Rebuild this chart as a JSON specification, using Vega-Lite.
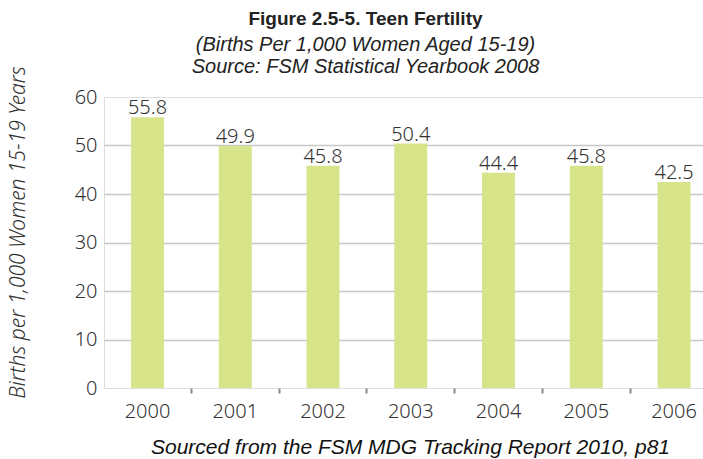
{
  "$schema": "https://vega.github.io/schema/vega-lite/v6.json",
  "width": 599,
  "height": 291,
  "autosize": {"type": "none"},
  "padding": {"left": 104, "top": 97, "right": 0, "bottom": 71},
  "background": "white",
  "title": {
    "text": "Figure 2.5-5. Teen Fertility",
    "subtitle": ["(Births Per 1,000 Women Aged 15-19)", "Source: FSM Statistical Yearbook 2008"],
    "anchor": "middle",
    "dx": -38,
    "offset": -11,
    "font": "Liberation Sans",
    "fontSize": 19,
    "fontWeight": "bold",
    "color": "#222222",
    "subtitleFont": "Liberation Sans",
    "subtitleFontStyle": "italic",
    "subtitleFontSize": 20,
    "subtitleColor": "#222222",
    "subtitlePadding": 6,
    "subtitleLineHeight": 22
  },
  "data": {
    "values": [
      {"year": "2000", "rate": 55.8},
      {"year": "2001", "rate": 49.9},
      {"year": "2002", "rate": 45.8},
      {"year": "2003", "rate": 50.4},
      {"year": "2004", "rate": 44.4},
      {"year": "2005", "rate": 45.8},
      {"year": "2006", "rate": 42.5}
    ]
  },
  "encoding": {
    "x": {
      "field": "year",
      "type": "nominal",
      "sort": null,
      "scale": {"paddingInner": 0.624, "paddingOuter": 0.225, "align": 0.684},
      "axis": {
        "title": "Sourced from the FSM MDG Tracking Report 2010, p81",
        "titleFont": "Liberation Sans",
        "titleFontStyle": "italic",
        "titleFontWeight": "normal",
        "titleFontSize": 21,
        "titleColor": "#111111",
        "titlePadding": 15,
        "titleX": 306,
        "labelAngle": 0,
        "labelFont": "Noto Sans",
        "labelFontWeight": 300,
        "labelFontSize": 20,
        "labelColor": "#333333",
        "labelPadding": 8,
        "domain": false,
        "ticks": true,
        "bandPosition": 1.83,
        "tickSize": 5,
        "tickWidth": 2,
        "tickColor": "#888888",
        "grid": false
      }
    }
  },
  "resolve": {"axis": {"y": "independent"}},
  "layer": [
    {
      "mark": {"type": "bar", "color": "#d7e48a"},
      "encoding": {
        "y": {
          "field": "rate",
          "type": "quantitative",
          "scale": {"domain": [0, 60], "nice": false},
          "axis": {
            "orient": "left",
            "title": null,
            "values": [10, 20, 30, 40, 50],
            "labels": false,
            "domain": false,
            "ticks": false,
            "grid": true,
            "gridColor": "#c8c8c8",
            "gridWidth": 1.5,
            "zindex": 0
          }
        }
      }
    },
    {
      "mark": {"type": "text", "baseline": "alphabetic", "dy": -3, "font": "Noto Sans", "fontWeight": 300, "fontSize": 20, "color": "#333333"},
      "encoding": {
        "y": {
          "field": "rate",
          "type": "quantitative",
          "axis": {
            "orient": "left",
            "title": "Births per 1,000 Women 15-19 Years",
            "titleFont": "Noto Sans",
            "titleFontStyle": "italic",
            "titleFontWeight": 300,
            "titleFontSize": 21,
            "titleColor": "#333333",
            "titlePadding": 46,
            "titleY": 135,
            "values": [0, 10, 20, 30, 40, 50, 60],
            "labelFont": "Noto Sans",
            "labelFontWeight": 300,
            "labelFontSize": 20,
            "labelColor": "#333333",
            "labelPadding": 7,
            "domain": false,
            "ticks": false,
            "grid": false
          }
        },
        "text": {"field": "rate", "type": "quantitative", "format": ".1f"}
      }
    }
  ]
}
